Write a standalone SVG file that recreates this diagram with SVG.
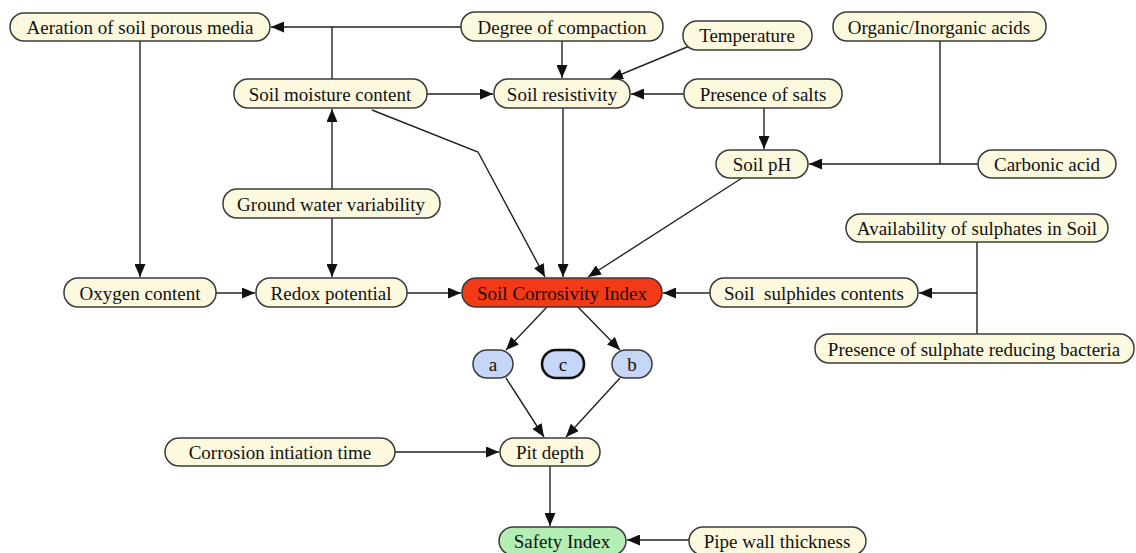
<svg xmlns="http://www.w3.org/2000/svg" width="1136" height="553" viewBox="0 0 1136 553">
<style>
.n rect{fill:#fdf9df;stroke:#3a3a3a;stroke-width:1.5}
.n text{font-family:"Liberation Serif",serif;font-size:19px;fill:#111;text-anchor:middle;dominant-baseline:central;white-space:pre}
.red rect{fill:#f23b16}
.grn rect{fill:#b4eeb4}
.blu rect{fill:#c6d6f6}
.e{fill:none;stroke:#222;stroke-width:1.4}
.a{marker-end:url(#ah)}
</style>
<defs>
<marker id="ah" markerWidth="13" markerHeight="11" refX="13" refY="5.5" orient="auto" markerUnits="userSpaceOnUse">
<path d="M0,0 L13,5.5 L0,11 Z" fill="#111"/>
</marker>
</defs>
<rect width="1136" height="553" fill="#fff"/>
<g id="connectors">
<path class="e a" d="M461,27 L271,27"/>
<path class="e" d="M332,27 L332,79"/>
<path class="e a" d="M562,41 L562,78"/>
<path class="e a" d="M692,45 L610,79"/>
<path class="e a" d="M427,94 L493,94"/>
<path class="e a" d="M684,94 L631,94"/>
<path class="e a" d="M764,108 L764,149"/>
<path class="e" d="M940,41 L940,164"/>
<path class="e a" d="M978,164 L809,164"/>
<path class="e a" d="M140,41 L140,277"/>
<path class="e a" d="M332,189 L332,109"/>
<path class="e a" d="M332,218 L332,277"/>
<path class="e a" d="M216,293 L255,293"/>
<path class="e a" d="M407,293 L461,293"/>
<path class="e a" d="M372,110 L478,152 L545,277"/>
<path class="e a" d="M563,108 L563,277"/>
<path class="e a" d="M742,178 L588,277"/>
<path class="e a" d="M710,293 L663,293"/>
<path class="e" d="M977,242 L977,334"/>
<path class="e a" d="M977,293 L919,293"/>
<path class="e a" d="M547,307 L506,350"/>
<path class="e a" d="M578,307 L620,350"/>
<path class="e a" d="M506,378 L544,437"/>
<path class="e a" d="M620,378 L566,437"/>
<path class="e a" d="M395,452 L499,452"/>
<path class="e a" d="M550,466 L550,526"/>
<path class="e a" d="M689,540 L627,540"/>
</g>
<g id="n_aeration" class="n"><rect x="10" y="13" width="260" height="28" rx="14"/><text x="140" y="27">Aeration of soil porous media</text></g>
<g id="n_compaction" class="n"><rect x="461" y="12" width="202" height="29" rx="14"/><text x="562" y="27">Degree of compaction</text></g>
<g id="n_temperature" class="n"><rect x="683" y="21" width="129" height="29" rx="14"/><text x="747" y="35">Temperature</text></g>
<g id="n_acids" class="n"><rect x="833" y="12" width="213" height="29" rx="14"/><text x="939" y="27">Organic/Inorganic acids</text></g>
<g id="n_moisture" class="n"><rect x="234" y="79" width="193" height="29" rx="14"/><text x="330" y="94">Soil moisture content</text></g>
<g id="n_resistivity" class="n"><rect x="494" y="79" width="136" height="29" rx="14"/><text x="562" y="94">Soil resistivity</text></g>
<g id="n_salts" class="n"><rect x="684" y="79" width="158" height="29" rx="14"/><text x="763" y="94">Presence of salts</text></g>
<g id="n_ph" class="n"><rect x="716" y="150" width="92" height="28" rx="14"/><text x="762" y="164">Soil pH</text></g>
<g id="n_carbonic" class="n"><rect x="978" y="150" width="138" height="28" rx="14"/><text x="1047" y="164">Carbonic acid</text></g>
<g id="n_groundwater" class="n"><rect x="223" y="189" width="217" height="29" rx="14"/><text x="331" y="204">Ground water variability</text></g>
<g id="n_sulphates" class="n"><rect x="846" y="214" width="262" height="28" rx="14"/><text x="977" y="228">Availability of sulphates in Soil</text></g>
<g id="n_oxygen" class="n"><rect x="64" y="278" width="152" height="29" rx="14"/><text x="140" y="293">Oxygen content</text></g>
<g id="n_redox" class="n"><rect x="256" y="278" width="151" height="29" rx="14"/><text x="331" y="293">Redox potential</text></g>
<g id="n_sci" class="n red"><rect x="462" y="278" width="200" height="29" rx="14"/><text x="562" y="293">Soil Corrosivity Index</text></g>
<g id="n_sulphides" class="n"><rect x="710" y="278" width="208" height="29" rx="14"/><text x="814" y="293">Soil  sulphides contents</text></g>
<g id="n_srb" class="n"><rect x="815" y="334" width="319" height="29" rx="14"/><text x="974" y="349">Presence of sulphate reducing bacteria</text></g>
<g id="n_a" class="n blu"><rect x="473" y="350" width="40" height="28" rx="14"/><text x="493" y="364">a</text></g>
<g id="n_c" class="n blu"><rect x="542" y="350" width="42" height="28" rx="14" style="stroke:#111;stroke-width:2.6"/><text x="563" y="364">c</text></g>
<g id="n_b" class="n blu"><rect x="612" y="350" width="40" height="28" rx="14"/><text x="632" y="364">b</text></g>
<g id="n_initiation" class="n"><rect x="165" y="438" width="230" height="28" rx="14"/><text x="280" y="452">Corrosion intiation time</text></g>
<g id="n_pit" class="n"><rect x="500" y="438" width="100" height="28" rx="14"/><text x="550" y="452">Pit depth</text></g>
<g id="n_safety" class="n grn"><rect x="499" y="527" width="127" height="28" rx="14"/><text x="562" y="541">Safety Index</text></g>
<g id="n_pipe" class="n"><rect x="689" y="527" width="177" height="28" rx="14"/><text x="777" y="541">Pipe wall thickness</text></g>
</svg>
